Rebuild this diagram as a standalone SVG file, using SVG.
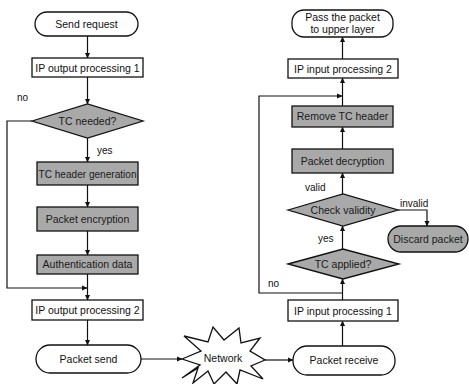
<svg xmlns="http://www.w3.org/2000/svg" width="469" height="384" viewBox="0 0 469 384">
<defs>
<marker id="ah" markerWidth="6" markerHeight="6" refX="5" refY="3" orient="auto" markerUnits="userSpaceOnUse">
<path d="M0,0.5 L5.5,3 L0,5.5 Z" fill="#111"/>
</marker>
<style>
.b{fill:#fff;stroke:#111;stroke-width:1.3}
.g{fill:#a9a9a9;stroke:#111;stroke-width:1.3}
.t{font-family:"Liberation Sans",Arial,sans-serif;font-size:10.5px;fill:#111;text-anchor:middle}
.tg{font-family:"Liberation Sans",Arial,sans-serif;font-size:10.5px;fill:#1a1a1a;text-anchor:middle}
.l{font-family:"Liberation Sans",Arial,sans-serif;font-size:10px;fill:#111}
.a{fill:none;stroke:#111;stroke-width:1.2;marker-end:url(#ah)}
</style>
</defs>
<rect width="469" height="384" fill="#fff"/>
<g id="connectors">
<line class="a" x1="87.5" y1="36" x2="87.5" y2="58"/>
<line class="a" x1="87.5" y1="77" x2="87.5" y2="104"/>
<line class="a" x1="87.5" y1="138" x2="87.5" y2="162"/>
<line class="a" x1="87.5" y1="185" x2="87.5" y2="207"/>
<line class="a" x1="87.5" y1="231" x2="87.5" y2="255"/>
<line class="a" x1="87.5" y1="274" x2="87.5" y2="300"/>
<polyline class="a" points="32,121 7,121 7,288 87,288"/>
<line class="a" x1="87.5" y1="320" x2="87.5" y2="345"/>
<line class="a" x1="141" y1="359" x2="182" y2="359"/>
<line class="a" x1="265" y1="360" x2="293" y2="360"/>
<line class="a" x1="342.5" y1="346" x2="342.5" y2="321"/>
<line class="a" x1="342.5" y1="300" x2="342.5" y2="279"/>
<polyline class="a" points="342.5,293 259,293 259,96 342,96"/>
<line class="a" x1="342.5" y1="249" x2="342.5" y2="226"/>
<line class="a" x1="342.5" y1="194" x2="342.5" y2="173"/>
<polyline class="a" points="398,210 427,210 427,226"/>
<line class="a" x1="342.5" y1="149" x2="342.5" y2="127"/>
<line class="a" x1="342.5" y1="106" x2="342.5" y2="78"/>
<line class="a" x1="342.5" y1="59" x2="342.5" y2="37"/>
<text class="l" x="17" y="101">no</text>
<text class="l" x="97" y="154">yes</text>
<text class="l" x="305" y="191">valid</text>
<text class="l" x="400" y="207">invalid</text>
<text class="l" x="318" y="242">yes</text>
<text class="l" x="268" y="287">no</text>
</g>
<g id="send-request"><rect class="b" x="35" y="12" width="103" height="24" rx="12"/><text class="t" x="86.5" y="28">Send request</text></g>
<g id="ip-out-1"><rect class="b" x="32" y="58" width="111" height="19"/><text class="t" x="87.5" y="71.5">IP output processing 1</text></g>
<g id="tc-needed"><polygon class="g" points="32,121 87.5,104 143,121 87.5,138"/><text class="tg" x="87.5" y="125">TC needed?</text></g>
<g id="tc-header-gen"><rect class="g" x="37" y="162" width="101" height="23"/><text class="tg" x="87.5" y="177.5" textLength="98" lengthAdjust="spacingAndGlyphs">TC header generation</text></g>
<g id="packet-encryption"><rect class="g" x="37" y="207" width="101" height="24"/><text class="tg" x="87.5" y="223">Packet encryption</text></g>
<g id="auth-data"><rect class="g" x="37" y="255" width="101" height="19"/><text class="tg" x="87.5" y="268">Authentication data</text></g>
<g id="ip-out-2"><rect class="b" x="32" y="300" width="111" height="20"/><text class="t" x="87.5" y="314">IP output processing 2</text></g>
<g id="packet-send"><rect class="b" x="36" y="345" width="105" height="28" rx="14"/><text class="t" x="88.5" y="363">Packet send</text></g>
<g id="network"><polygon class="b" points="182,359 201,351 184,336 208,342 213,327 224,340 239,328 241,343 260,338 250,351 265,360 251,366 263,379 240,370 237,384 226,372 214,384 208,371 193,383 198,368 182,378 200,365"/><text class="t" x="223" y="362">Network</text></g>
<g id="pass-upper"><rect class="b" x="292" y="10" width="101" height="27" rx="12"/><text class="t" x="342.5" y="21">Pass the packet</text><text class="t" x="342.5" y="33">to upper layer</text></g>
<g id="ip-in-2"><rect class="b" x="288" y="59" width="110" height="19"/><text class="t" x="343" y="72.5">IP input processing 2</text></g>
<g id="remove-tc"><rect class="g" x="292" y="106" width="101" height="21"/><text class="tg" x="342.5" y="120">Remove TC header</text></g>
<g id="packet-decryption"><rect class="g" x="292" y="149" width="101" height="24"/><text class="tg" x="342.5" y="165">Packet decryption</text></g>
<g id="check-validity"><polygon class="g" points="288,210 343,194 398,210 343,226"/><text class="tg" x="343" y="214">Check validity</text></g>
<g id="discard-packet"><rect class="g" x="388" y="226" width="80" height="26" rx="13"/><text class="tg" x="428" y="243">Discard packet</text></g>
<g id="tc-applied"><polygon class="g" points="288,264 343,249 399,264 343,279"/><text class="tg" x="343" y="268">TC applied?</text></g>
<g id="ip-in-1"><rect class="b" x="288" y="300" width="110" height="21"/><text class="t" x="343" y="314.5">IP input processing 1</text></g>
<g id="packet-receive"><rect class="b" x="293" y="346" width="102" height="29" rx="14"/><text class="t" x="344" y="364">Packet receive</text></g>
</svg>
